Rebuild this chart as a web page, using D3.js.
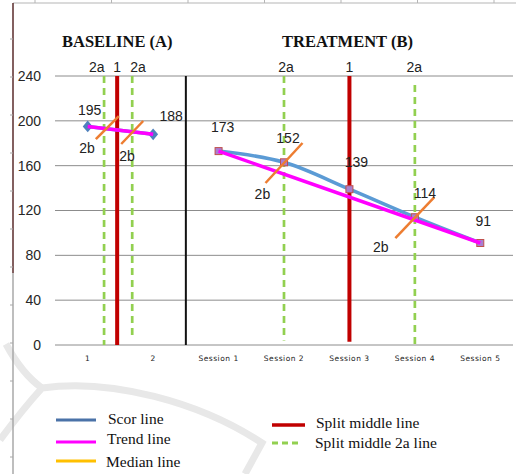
<!DOCTYPE html>
<html>
<head>
<meta charset="utf-8">
<script src="https://cdn.jsdelivr.net/npm/d3@7"></script>
<style>
  body { margin: 0; background: #fff; }
</style>
</head>
<body>
<div id="chart"></div>
<script>
// categories on the x axis (2 baseline sessions, 5 treatment sessions)
const categories = ["1", "2", "Session 1", "Session 2", "Session 3", "Session 4", "Session 5"];
const yTicks = [0, 40, 80, 120, 160, 200, 240];

// score values, split by phase
const baselineScores = [195, 188];
const treatmentScores = [173, 163, 139, 114, 91];
// labels as printed on the chart (session 2 is printed as 152)
const scoreLabels = ["195", "188", "173", "152", "139", "114", "91"];

// trend line endpoints [index, value]
const trendA = [[0, 195], [1, 188]];
const trendB = [[2, 173], [6, 91]];

// split-middle lines, position in category index units, value range
const splitMiddle = [[0.45, 0, 240], [4.0, 3, 240]];
const split2a = [[0.25, 0, 240], [0.68, 6, 240], [3.0, 4, 240], [5.0, 0, 232]];
const phaseChange = 1.5;

// median marks (index, value)
const medians = [[0.30, 194], [0.68, 189.6], [3.0, 162.4], [5.0, 113.7]];

// labels above the plot
const topLabels = [["2a", 0.14], ["1", 0.45], ["2a", 0.77], ["2a", 3.03], ["1", 4.0], ["2a", 4.99]];
// the "2b" notes next to the median marks (index, value)
const twoB = [[-0.01, 171], [0.60, 164], [2.67, 130], [4.48, 83]];

const legendLeft = ["Scor line", "Trend line", "Median line"];
const legendRight = ["Split middle line", "Split middle 2a line"];

let width = 516;
let height = 474;

const svg = d3.select("#chart")
              .append("svg")
              .attr("width", width)
              .attr("height", height);

// faint watermark swoosh at the bottom
svg.append("path")
   .attr("d", "M6,344 Q22,374 42,388 M42,388 Q22,410 0,440 M42,388 C110,378 200,402 262,443 L245,474")
   .style("fill", "none")
   .style("stroke", "#e8e8e8")
   .style("stroke-width", 7);

// page frame: top and left rules with little ticks
svg.append("line").attr("x1", 13).attr("x2", 516).attr("y1", 3).attr("y2", 3)
   .style("stroke", "#b5b5b5").style("stroke-width", 1);
svg.append("line").attr("x1", 13).attr("x2", 13).attr("y1", 3).attr("y2", 273)
   .style("stroke", "#5a2b2b").style("stroke-width", 1.5);
svg.append("line").attr("x1", 13).attr("x2", 13).attr("y1", 273).attr("y2", 474)
   .style("stroke", "#a8a8a8").style("stroke-width", 1.5);
d3.range(35, 516, 76.5).forEach(function(x) {
  svg.append("line").attr("x1", x).attr("x2", x).attr("y1", 0).attr("y2", 3).style("stroke", "#b5b5b5");
});
d3.range(39, 474, 38).forEach(function(y) {
  svg.append("line").attr("x1", 10).attr("x2", 13).attr("y1", y).attr("y2", y).style("stroke", "#a8a8a8");
});

// scales
const xBand = d3.scaleBand().domain(categories).range([55, 513]);
const x = d3.scaleLinear().domain([-0.5, categories.length - 0.5]).range([55, 513]);
const y = d3.scaleLinear().domain([0, 240]).range([345, 76]);

// gridlines
svg.selectAll(".grid")
   .data(yTicks)
   .enter()
   .append("line")
   .attr("class", "grid")
   .attr("x1", 55)
   .attr("x2", 513)
   .attr("y1", d => y(d))
   .attr("y2", d => y(d))
   .style("stroke", "#8c8c8c")
   .style("stroke-width", 1);

// y axis (labels only)
const yAxis = svg.append("g")
   .attr("transform", "translate(55,0)")
   .call(d3.axisLeft(y).tickValues(yTicks).tickSize(0).tickPadding(14));
yAxis.select(".domain").remove();
yAxis.selectAll("text")
   .style("font-family", "'Liberation Sans', Arial, sans-serif")
   .style("font-size", "14px")
   .style("fill", "#262626");

// x axis (tiny session labels)
const xAxis = svg.append("g")
   .attr("transform", "translate(0,345)")
   .call(d3.axisBottom(xBand).tickSize(0).tickPadding(11));
xAxis.select(".domain").remove();
xAxis.selectAll("text")
   .style("font-family", "'DejaVu Sans', Verdana, sans-serif")
   .style("font-size", "7.5px")
   .style("letter-spacing", "0.5px")
   .style("fill", "#222");

// phase titles
svg.append("text").attr("x", 62).attr("y", 47).text("BASELINE (A)")
   .style("font-family", "'Liberation Serif', 'Times New Roman', serif")
   .style("font-weight", "bold").style("font-size", "16.5px").style("fill", "#111");
svg.append("text").attr("x", 282).attr("y", 47).text("TREATMENT (B)")
   .style("font-family", "'Liberation Serif', 'Times New Roman', serif")
   .style("font-weight", "bold").style("font-size", "16.5px").style("fill", "#111");

// phase change line
svg.append("line")
   .attr("x1", x(phaseChange)).attr("x2", x(phaseChange))
   .attr("y1", y(240)).attr("y2", y(0))
   .style("stroke", "#111").style("stroke-width", 2);

// split middle 2a lines (green dashed)
svg.selectAll(".split2a")
   .data(split2a)
   .enter()
   .append("line")
   .attr("x1", d => x(d[0])).attr("x2", d => x(d[0]))
   .attr("y1", d => y(d[2])).attr("y2", d => y(d[1]))
   .style("stroke", "#92d050")
   .style("stroke-width", 2.7)
   .style("stroke-dasharray", "7,5");

// split middle lines (red)
svg.selectAll(".splitMid")
   .data(splitMiddle)
   .enter()
   .append("line")
   .attr("x1", d => x(d[0])).attr("x2", d => x(d[0]))
   .attr("y1", d => y(d[2])).attr("y2", d => y(d[1]))
   .style("stroke", "#c00000")
   .style("stroke-width", 4);

// labels over the split lines
svg.selectAll(".topLabel")
   .data(topLabels)
   .enter()
   .append("text")
   .attr("x", d => x(d[1]))
   .attr("y", 72)
   .attr("text-anchor", "middle")
   .text(d => d[0])
   .style("font-family", "'Liberation Sans', Arial, sans-serif")
   .style("font-size", "14px")
   .style("fill", "#222");

// score line
const baseData = baselineScores.map((v, i) => [i, v]);
const treatData = treatmentScores.map((v, i) => [i + 2, v]);

const straight = d3.line().x(d => x(d[0])).y(d => y(d[1]));
const smooth = d3.line().x(d => x(d[0])).y(d => y(d[1])).curve(d3.curveMonotoneX);

svg.append("path").attr("d", straight(baseData))
   .style("fill", "none").style("stroke", "#5b9bd5").style("stroke-width", 3.5);
svg.append("path").attr("d", smooth(treatData))
   .style("fill", "none").style("stroke", "#5b9bd5").style("stroke-width", 3.5);

// markers: diamonds for baseline, squares for treatment
svg.selectAll(".diamond")
   .data(baseData)
   .enter()
   .append("path")
   .attr("d", d3.symbol().type(d3.symbolDiamond).size(55))
   .attr("transform", d => "translate(" + x(d[0]) + "," + y(d[1]) + ") scale(1.25,0.85)")
   .style("fill", "#4f81bd");

svg.selectAll(".square")
   .data(treatData)
   .enter()
   .append("rect")
   .attr("x", d => x(d[0]) - 3.5)
   .attr("y", d => y(d[1]) - 3.5)
   .attr("width", 7)
   .attr("height", 7)
   .style("fill", "#a77fd0")
   .style("stroke", "#c0504d")
   .style("stroke-width", 1);

// trend lines
[trendA, trendB].forEach(function(t) {
  svg.append("path").attr("d", straight(t))
     .style("fill", "none").style("stroke", "#ff00ff").style("stroke-width", 3.5);
});

// median marks (short orange diagonals)
const medHalf = [[11.5, 11.5], [11, 11.5], [18.5, 20], [19.5, 20.5]];
svg.selectAll(".median")
   .data(medians)
   .enter()
   .append("line")
   .attr("x1", (d, i) => x(d[0]) - medHalf[i][0])
   .attr("x2", (d, i) => x(d[0]) + medHalf[i][0])
   .attr("y1", (d, i) => y(d[1]) + medHalf[i][1])
   .attr("y2", (d, i) => y(d[1]) - medHalf[i][1])
   .style("stroke", "#ed7d31")
   .style("stroke-width", 2.5);

// value labels
const allScores = baselineScores.concat(treatmentScores);
const labelNudge = [[2, -11], [18, -13], [4, -19], [4, -19], [7, -22], [10, -19], [3, -17]];
svg.selectAll(".valLabel")
   .data(allScores)
   .enter()
   .append("text")
   .attr("x", (d, i) => x(i) + labelNudge[i][0])
   .attr("y", (d, i) => y(d) + labelNudge[i][1])
   .attr("text-anchor", "middle")
   .text((d, i) => scoreLabels[i])
   .style("font-family", "'Liberation Sans', Arial, sans-serif")
   .style("font-size", "14px")
   .style("fill", "#222");

// 2b notes
svg.selectAll(".twoB")
   .data(twoB)
   .enter()
   .append("text")
   .attr("x", d => x(d[0]))
   .attr("y", d => y(d[1]))
   .attr("text-anchor", "middle")
   .text("2b")
   .style("font-family", "'Liberation Sans', Arial, sans-serif")
   .style("font-size", "14px")
   .style("fill", "#222");

// legend
const legendFont = "'Liberation Serif', 'Times New Roman', serif";
const leftColors = ["#4a72a8", "#ff00ff", "#ffc000"];
const leftLineY = [420, 442, 461];
const leftTextY = [424, 444, 467];
const leftTextX = [108, 107, 106];

legendLeft.forEach(function(name, i) {
  svg.append("line").attr("x1", 56).attr("x2", 96).attr("y1", leftLineY[i]).attr("y2", leftLineY[i])
     .style("stroke", leftColors[i]).style("stroke-width", 3);
  svg.append("text").attr("x", leftTextX[i]).attr("y", leftTextY[i]).text(name)
     .style("font-family", legendFont).style("font-size", "15.5px").style("fill", "#111");
});

svg.append("line").attr("x1", 272).attr("x2", 305).attr("y1", 425).attr("y2", 425)
   .style("stroke", "#c00000").style("stroke-width", 3.5);
svg.append("text").attr("x", 316).attr("y", 428).text(legendRight[0])
   .style("font-family", legendFont).style("font-size", "15.5px").style("fill", "#111");
svg.append("line").attr("x1", 272).attr("x2", 302).attr("y1", 443).attr("y2", 443)
   .style("stroke", "#92d050").style("stroke-width", 3).style("stroke-dasharray", "6,4");
svg.append("text").attr("x", 315).attr("y", 448).text(legendRight[1])
   .style("font-family", legendFont).style("font-size", "15.5px").style("fill", "#111");
</script>
</body>
</html>
